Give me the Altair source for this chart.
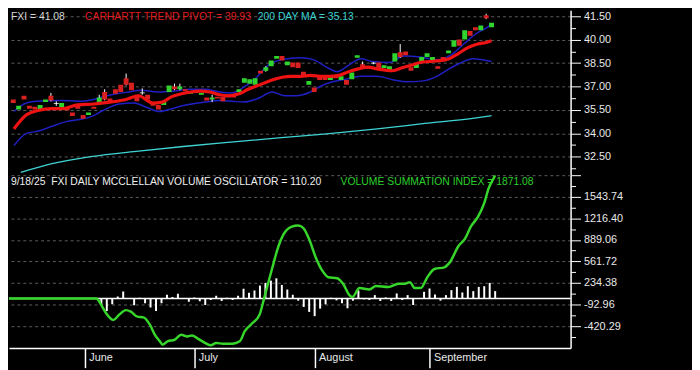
import altair as alt
import pandas as pd

FONT = "Liberation Sans, Arial, Helvetica, sans-serif"
W, H_TOP, H_BOT = 569, 167, 175
X_DOMAIN = [-13.88, 88.79]
P_DOMAIN = [31.316, 41.88]
V_DOMAIN = [-752.0, 1871.08]

# ---------------- price panel data ----------------
candle_day = list(range(-14, 76))
candle_open = [36.17, 35.52, 36.41, 35.76, 35.70, 35.46, 36.00, 36.41, 35.93, 35.64,
               35.58, 35.34, 35.76, 35.17, 35.17, 35.70, 36.00, 36.65, 36.23, 36.82,
               37.12, 37.53, 37.24, 36.47, 36.62, 36.47, 35.94, 35.82, 35.82, 36.65,
               37.00, 36.82, 36.82, 36.53, 36.59, 36.47, 36.29, 36.17, 36.35, 36.35,
               36.47, 36.47, 36.65, 37.24, 37.18, 37.12, 38.01, 38.01, 38.30, 38.78,
               38.95, 38.36, 38.54, 38.54, 37.95, 37.12, 36.94, 37.59, 37.71, 37.42,
               37.71, 37.42, 37.42, 37.47, 38.84, 38.42, 38.30, 38.53, 38.54, 38.18,
               38.07, 38.60, 39.19, 39.25, 38.24, 38.18, 38.54, 38.89, 38.60, 38.30,
               38.89, 39.13, 39.55, 40.02, 40.02, 40.55, 40.79, 40.61, 41.56, 40.79]
candle_close = [35.94, 35.76, 36.17, 35.58, 35.52, 35.82, 36.17, 36.11, 35.88, 35.94,
                35.46, 35.11, 35.58, 34.93, 35.34, 35.58, 36.29, 36.17, 36.05, 36.53,
                36.65, 37.12, 36.76, 36.05, 36.56, 36.17, 35.76, 35.52, 36.00, 37.06,
                36.82, 37.00, 36.70, 36.70, 36.76, 36.59, 36.11, 36.29, 36.23, 36.05,
                36.29, 36.29, 36.82, 37.53, 37.47, 37.53, 37.83, 38.24, 38.66, 38.95,
                38.66, 38.60, 38.24, 38.18, 37.71, 37.36, 36.65, 37.42, 37.42, 37.65,
                37.53, 37.65, 37.12, 37.89, 39.01, 38.24, 38.13, 38.47, 38.13, 38.36,
                38.30, 39.13, 38.89, 39.01, 38.01, 38.48, 38.89, 39.13, 38.89, 38.13,
                38.60, 39.31, 39.96, 39.61, 40.61, 40.26, 40.61, 40.91, 41.38, 41.08]

wick_day = [-7, -6, 2, 3, 7, 10, 16, 17, 23, 33, 51, 53, 58, 74]
wick_high = [36.59, 36.05, 36.47, 36.82, 37.83, 36.88, 37.18, 37.18, 36.47, 38.30, 38.60, 38.56, 39.72, 41.66]
wick_low = [36.05, 35.76, 35.94, 36.11, 37.06, 36.47, 36.76, 36.76, 36.00, 37.95, 38.18, 38.42, 38.84, 41.32]

pivot_day = [-13.88, -11.6, -9.4, -6.8, -5.0, -2.0, 1.0, 4.0, 7.0, 9.3, 12.0, 13.7, 15.5, 17.3,
             19.0, 20.8, 22.6, 24.4, 26.2, 28.0, 29.7, 31.5, 34.2, 36.0, 37.7, 39.5, 41.3,
             43.1, 44.8, 46.6, 48.4, 50.2, 52.0, 53.7, 56.4, 58.2, 60.0, 61.7, 63.5, 65.3,
             67.1, 68.9, 70.6, 72.4, 74.2, 75.0]
pivot_val = [34.28, 35.17, 35.46, 35.58, 35.58, 35.82, 35.88, 36.00, 36.17, 36.41, 35.94, 36.00,
             36.35, 36.53, 36.65, 36.70, 36.65, 36.47, 36.41, 36.53, 36.82, 37.06, 37.42, 37.59,
             37.65, 37.65, 37.71, 37.65, 37.65, 37.71, 37.95, 38.13, 38.24, 38.13, 38.01, 38.18,
             38.36, 38.54, 38.60, 38.66, 38.78, 39.13, 39.49, 39.72, 39.84, 39.93]

upper_day = [-13.88, -11.6, -9.8, -5.0, -2.0, 0.9, 2.7, 5.2, 7.5, 9.8, 12.8, 15.8, 19.0, 21.7,
             24.4, 26.7, 28.8, 31.1, 33.6, 35.9, 39.5, 41.8, 44.3, 46.3, 48.4, 50.7, 52.8, 55.9,
             58.7, 61.7, 64.8, 67.4, 69.8, 72.1, 74.2, 75.0]
upper_val = [35.40, 35.94, 36.05, 36.11, 36.05, 36.17, 36.35, 36.53, 36.65, 36.76, 36.65, 36.70,
             36.82, 36.82, 36.65, 36.59, 36.94, 37.53, 38.42, 38.72, 38.84, 38.72, 38.24, 37.95,
             38.36, 38.78, 38.60, 38.54, 38.95, 38.89, 38.72, 39.01, 39.72, 40.38, 40.79, 40.97]

lower_day = [-13.88, -11.6, -9.1, -6.8, -4.1, -2.0, 0.4, 2.7, 5.7, 8.4, 11.0, 13.2, 15.5, 18.1,
             21.7, 24.4, 26.7, 28.8, 31.5, 34.2, 36.5, 38.6, 41.3, 43.1, 45.4, 47.9, 50.5, 53.7,
             56.8, 59.1, 62.3, 64.8, 67.1, 69.4, 71.5, 73.3, 75.0]
lower_val = [33.21, 33.98, 34.16, 34.45, 34.75, 34.87, 35.05, 35.46, 35.88, 35.94, 35.64, 35.40,
             35.58, 35.82, 36.00, 36.11, 36.05, 36.00, 36.23, 36.65, 36.41, 36.41, 36.65, 37.00,
             37.30, 37.47, 37.65, 37.65, 37.42, 37.30, 37.36, 37.65, 38.13, 38.54, 38.78, 38.72, 38.60]

ma_day = [-12.6, -6.8, 0.4, 9.3, 18.1, 27.0, 35.9, 44.8, 53.7, 62.6, 71.5, 75.0]
ma_val = [31.49, 32.05, 32.50, 32.86, 33.17, 33.45, 33.72, 33.98, 34.28, 34.63, 34.96, 35.13]

# ---------------- volume panel data ----------------
sum_day = [-13.88, 2.1, 3.0, 3.9, 5.2, 6.2, 7.5, 8.4, 9.6, 10.7, 11.9, 12.8, 13.7, 14.2, 15.1,
           16.4, 17.6, 18.7, 19.6, 20.5, 21.7, 23.0, 24.0, 25.3, 27.0, 28.3, 29.2, 30.6, 31.9,
           32.9, 34.2, 35.4, 36.3, 37.7, 39.0, 39.9, 41.0, 42.2, 43.4, 44.5, 46.1, 47.2, 48.4,
           48.9, 50.2, 52.0, 53.2, 55.5, 57.3, 58.5, 59.4, 60.3, 61.4, 62.6, 63.9, 65.7, 66.7,
           68.3, 69.4, 70.6, 71.9, 73.0, 73.8, 74.7, 75.0]
sum_val = [0, 0, -103, -228, -328, -253, -178, -202, -277, -288, -403, -553, -652, -703, -652,
           -628, -553, -577, -562, -603, -663, -712, -678, -688, -688, -652, -502, -378, -253,
           46, 447, 796, 971, 1087, 1106, 1072, 897, 622, 421, 322, 307, 222, 46,
           22, 157, 136, 187, 172, 222, 222, 247, 157, 157, 322, 447, 472, 547,
           796, 896, 1096, 1246, 1447, 1671, 1821, 1871.08]

osc_day = [3, 4, 5, 6, 7, 9, 10, 11, 12, 13, 14, 15, 16, 17,
           19, 20, 21, 22, 23, 24, 25, 26, 27, 28, 29, 30, 31, 32, 33, 34, 35, 36, 37, 38,
           39, 40, 41, 42, 43, 44, 45, 46, 47, 48, 49, 50, 51, 52, 53, 54, 55, 56, 57, 58,
           59, 60, 62, 63, 64, 65, 66, 67, 68, 69, 70, 71, 72, 73, 74, 75]
osc_val = [-100, -190, -90, 30, 105, -105, 10, -75, -140, -190, -75, 55, 20, 70,
           -50, 15, -45, -100, -25, 40, -40, 10, -25, 40, 145, 85, 120, 195, 235, 270, 305, 205, 135, 55,
           -35, -130, -205, -270, -155, -90, 10, -30, -75, -150, -35, 120, -15, -25, 50, -40, 15, -40, 75, -25,
           50, -100, 100, 150, 60, -35, 50, 125, 175, 90, 185, 110, 175, 185, 235, 110.20]

# ---------------- axis ticks / labels ----------------
price_major = [32.5, 34.0, 35.5, 37.0, 38.5, 40.0, 41.5]
price_minor = [31.75, 33.25, 34.75, 36.25, 37.75, 39.25, 40.75]
vol_major = [1871.08, 1543.74, 1216.40, 889.06, 561.72, 234.38, -92.96, -420.29]
vol_minor = [1707.41, 1380.07, 1052.73, 725.39, 398.05, 70.71, -256.63, -583.96]
vol_unlabeled = [1871.08]
month_day = [0, 20, 42, 63]
month_name = ["June", "July", "August", "September"]

top_titles = ["FXI = 41.08", "CARHARTT TREND PIVOT = 39.93", "200 DAY MA = 35.13"]
bottom_titles = ["9/18/25\u00a0 FXI DAILY MCCLELLAN VOLUME OSCILLATOR = 110.20",
                 "VOLUME SUMMATION INDEX = 1871.08"]

# ---------------- tables ----------------
candles = pd.DataFrame({"day": candle_day, "o": candle_open, "c": candle_close})
candles["dir"] = ["flat" if abs(o - c) < 0.07 else ("up" if c > o else "down")
                  for o, c in zip(candle_open, candle_close)]
wicks = pd.DataFrame({"day": wick_day, "hi": wick_high, "lo": wick_low})
pivot = pd.DataFrame({"day": pivot_day, "v": pivot_val})
upper = pd.DataFrame({"day": upper_day, "v": upper_val})
lower = pd.DataFrame({"day": lower_day, "v": lower_val})
ma = pd.DataFrame({"day": ma_day, "v": ma_val})
ssum = pd.DataFrame({"day": sum_day, "v": sum_val})
osc = pd.DataFrame({"day": osc_day, "v": osc_val})
one = pd.DataFrame({"z": [0]})

GRID = "#5c5c5c"
LBL = "#e8e8e8"


def major_test(vals):
    return f"indexof({list(vals)}, datum.value) >= 0"


top_axis = alt.Axis(
    orient="right", values=sorted(price_major + price_minor), title=None,
    labelExpr=f"{major_test(price_major)} ? format(datum.value, '.2f') : ''",
    tickSize={"condition": {"test": major_test(price_major), "value": 10}, "value": 5},
    gridOpacity={"condition": {"test": major_test(price_major), "value": 1}, "value": 0},
    grid=True, gridColor=GRID, gridDash=[3, 3], gridWidth=1,
    domainColor="white", domainWidth=1.5, tickColor="white", tickWidth=1,
    labelColor=LBL, labelFont=FONT, labelFontSize=11, labelPadding=3,
    labelOverlap=False, labelBound=False, labelFlush=False,
    minExtent=123, maxExtent=123,
)
shown = [v for v in vol_major if v not in vol_unlabeled]
bot_axis = alt.Axis(
    orient="right", values=sorted(vol_major + vol_minor), title=None,
    labelExpr=f"{major_test(shown)} ? replace(format(datum.value, '.2f'), '\u2212', '-') : ''",
    tickSize={"condition": {"test": major_test(vol_major), "value": 10}, "value": 5},
    gridOpacity={"condition": {"test": major_test(vol_major), "value": 1}, "value": 0},
    grid=True, gridColor=GRID, gridDash=[3, 3], gridWidth=1,
    domainColor="white", domainWidth=1.5, tickColor="white", tickWidth=1,
    labelColor=LBL, labelFont=FONT, labelFontSize=11, labelPadding=3,
    labelOverlap=False, labelBound=False, labelFlush=False,
    minExtent=123, maxExtent=123,
)
month_expr = " : ".join(f"datum.value == {d} ? '{n}'" for d, n in zip(month_day, month_name)) + " : ''"
x_bot_axis = alt.Axis(
    values=month_day, labelExpr=month_expr, title=None, grid=False,
    tickSize=20, tickColor="white", tickWidth=1.5, domainColor="white", domainWidth=1.5,
    labelAlign="left", labelBaseline="middle", labelPadding=-10, labelOffset=4,
    labelColor=LBL, labelFont=FONT, labelFontSize=11, labelFlush=False,
    labelOverlap=False, labelBound=False, minExtent=20, maxExtent=20,
)

xscale = alt.Scale(domain=X_DOMAIN, nice=False, zero=False)
pscale = alt.Scale(domain=P_DOMAIN, nice=False, zero=False)
vscale = alt.Scale(domain=V_DOMAIN, nice=False, zero=False)


def xt():
    return alt.X("day:Q", scale=xscale, axis=None)


def xb():
    return alt.X("day:Q", scale=xscale, axis=x_bot_axis)


def yp(f):
    return alt.Y(f"{f}:Q", scale=pscale, axis=top_axis)


def yv(f):
    return alt.Y(f"{f}:Q", scale=vscale, axis=bot_axis)


def line(df, color, width, enc_x, enc_y):
    return alt.Chart(df).mark_line(color=color, strokeWidth=width, interpolate="monotone",
                                   clip=True).encode(x=enc_x, y=enc_y)


def title(text, color, x, y):
    return alt.Chart(one).mark_text(align="left", baseline="middle", font=FONT, fontSize=10.5,
                                    color=color).encode(x=alt.value(x), y=alt.value(y),
                                                        text=alt.value(text))


ma_l = line(ma, "#3fd3d3", 1.3, xt(), yp("v"))
up_l = line(upper, "#1f1fc4", 1.5, xt(), yp("v"))
lo_l = line(lower, "#1f1fc4", 1.5, xt(), yp("v"))
wick_l = alt.Chart(wicks).mark_rule(color="white", strokeWidth=1, clip=True).encode(
    x=xt(), y=yp("hi"), y2="lo:Q")
body_l = alt.Chart(candles).mark_bar(size=5.0, clip=True).encode(
    x=xt(), y=yp("o"), y2="c:Q",
    color=alt.Color("dir:N", legend=None,
                    scale=alt.Scale(domain=["up", "down", "flat"],
                                    range=["#2fd42f", "#d82020", "#ffffff"])))
piv_l = line(pivot, "#ee1212", 3.2, xt(), yp("v"))

top = alt.layer(
    ma_l, up_l, lo_l, wick_l, body_l, piv_l,
    title(top_titles[0], "#d6d6d6", 2, 6.5),
    title(top_titles[1], "#e01c1c", 77, 6.5),
    title(top_titles[2], "#3ad2d2", 252, 6.5),
).properties(width=W, height=H_TOP)

zero_l = alt.Chart(one).mark_rule(color="white", strokeWidth=1.5).encode(
    y=alt.Y("z:Q", scale=vscale, axis=bot_axis))
osc_l = alt.Chart(osc).mark_rule(color="white", strokeWidth=2, clip=True).encode(
    x=xb(), y=yv("v"), y2=alt.datum(0))
sum_l = line(ssum, "#36d62a", 2.5, xb(), yv("v"))

bottom = alt.layer(
    zero_l, osc_l, sum_l,
    title(bottom_titles[0], "#f0f0f0", 2, 6.7),
    title(bottom_titles[1], "#2bd12b", 336, 6.7),
).properties(width=W, height=H_BOT)

chart = alt.vconcat(top, bottom, spacing=0, bounds="flush").properties(
    padding=0, background="#000000"
).configure_view(stroke=None)

chart.save("out.html", embed_options={"renderer": "svg", "actions": False})
